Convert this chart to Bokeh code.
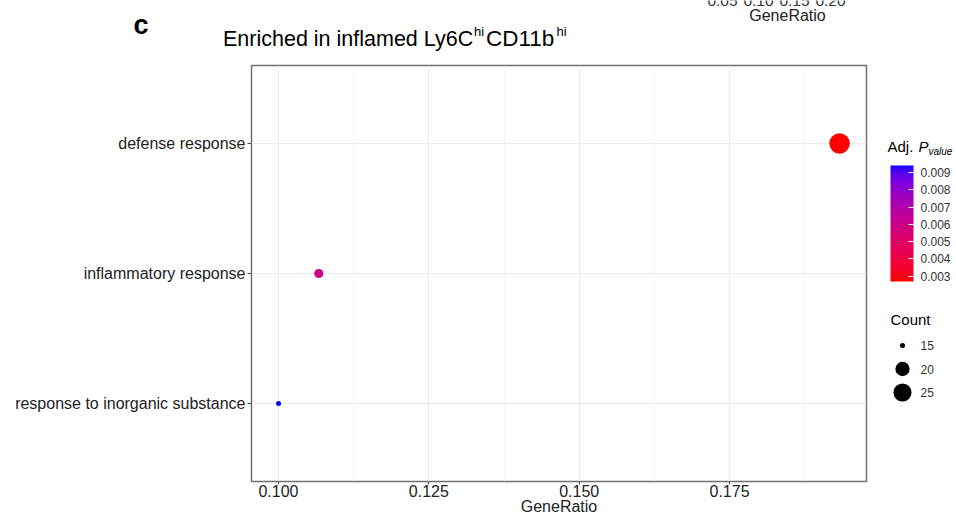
import numpy as np
from bokeh.plotting import figure
from bokeh.models import (Range1d, FactorRange, FixedTicker, LinearColorMapper, ColorBar,
                          PrintfTickFormatter, ColumnDataSource)
from bokeh.layouts import column, row
from bokeh.core.properties import value
from bokeh.embed import file_html
from bokeh.resources import INLINE

# ---------------- data ----------------
terms = ["defense response", "inflammatory response", "response to inorganic substance"]
gene_ratio = [0.1933, 0.1067, 0.1000]
counts = [29, 16, 15]
p_adjust = [0.0027, 0.0060, 0.0094]

x_ticks = [0.100, 0.125, 0.150, 0.175]
x_minor = [0.1125, 0.1375, 0.1625, 0.1875]
cbar_ticks = [0.003, 0.004, 0.005, 0.006, 0.007, 0.008, 0.009]
count_breaks = [15, 20, 25]
# tick labels of the neighbouring panel, cut off at the top edge of the reference
neighbour_ticks = ["0.05", "0.10", "0.15", "0.20"]

FONT = "Liberation Sans"
W, H = 956, 521
TOP_H = 58
MAIN_W = 870

# ---------------- scales ----------------
def size_px(c):
    cmin, cmax = min(counts), max(counts)
    return 5.0 + 15.5 * np.sqrt((np.asarray(c, float) - cmin) / (cmax - cmin))


def _srgb_to_lab(rgb):
    c = np.array(rgb, float) / 255.0
    lin = np.where(c > 0.04045, ((c + 0.055) / 1.055) ** 2.4, c / 12.92)
    M = np.array([[0.4124, 0.3576, 0.1805], [0.2126, 0.7152, 0.0722], [0.0193, 0.1192, 0.9505]])
    X, Y, Z = M @ lin
    X /= 0.95047; Z /= 1.08883
    d = 6 / 29
    f = lambda t: t ** (1 / 3) if t > d ** 3 else t / (3 * d * d) + 4 / 29
    fx, fy, fz = f(X), f(Y), f(Z)
    return np.array([116 * fy - 16, 500 * (fx - fy), 200 * (fy - fz)])


def _lab_to_hex(lab):
    L, a, b = lab
    fy = (L + 16) / 116
    fx = fy + a / 500
    fz = fy - b / 200
    d = 6 / 29
    finv = lambda t: t ** 3 if t > d else 3 * d * d * (t - 4 / 29)
    X, Y, Z = finv(fx) * 0.95047, finv(fy), finv(fz) * 1.08883
    Minv = np.linalg.inv(np.array([[0.4124, 0.3576, 0.1805], [0.2126, 0.7152, 0.0722], [0.0193, 0.1192, 0.9505]]))
    lin = np.clip(Minv @ np.array([X, Y, Z]), 0, 1)
    c = np.where(lin > 0.0031308, 1.055 * lin ** (1 / 2.4) - 0.055, 12.92 * lin)
    c = np.clip(np.round(c * 255), 0, 255).astype(int)
    return "#%02x%02x%02x" % tuple(c)


lab_lo = _srgb_to_lab((255, 0, 0))
lab_hi = _srgb_to_lab((0, 0, 255))
palette = [_lab_to_hex(lab_lo + (lab_hi - lab_lo) * t) for t in np.linspace(0, 1, 256)]
mapper = LinearColorMapper(palette=palette, low=min(p_adjust), high=max(p_adjust))


def txt(fig, x, y, s, size, style="normal", color="#000000", align="left"):
    fig.text(x=[x], y=[y], text=[s], text_font=value(FONT), text_font_size=size,
             text_font_style=style, text_color=color, text_align=align,
             text_baseline="middle")


# ---------------- top strip ----------------
top = figure(width=W, height=TOP_H, x_range=Range1d(0, W), y_range=Range1d(TOP_H, 0),
             output_backend="svg", toolbar_location=None, min_border=0,
             x_axis_location=None, y_axis_location=None)
top.grid.visible = False
top.outline_line_color = None
txt(top, 133, 24, "c", "27px", style="bold")
txt(top, 222.5, 38, "Enriched in inflamed Ly6C", "21.5px")
txt(top, 473.5, 31, "hi", "13px")
txt(top, 485.5, 38, "CD11b", "22.5px")
txt(top, 556, 31, "hi", "13px")
for i, t in enumerate(neighbour_ticks):
    txt(top, 722 + 36 * i, 0.5, t, "15.5px", color="#333333", align="center")
txt(top, 787, 15, "GeneRatio", "16px", color="#222222", align="center")

# ---------------- main panel ----------------
src = ColumnDataSource(dict(term=terms, gene_ratio=gene_ratio, count=counts,
                            p_adjust=p_adjust, size=size_px(counts)))

p = figure(width=MAIN_W, height=H - TOP_H,
           x_range=Range1d(0.09551, 0.19778),
           y_range=FactorRange(factors=terms[::-1], range_padding=0.1, range_padding_units="absolute"),
           output_backend="svg", toolbar_location=None,
           min_border_left=251, min_border_right=4, min_border_top=7, min_border_bottom=40)
p.background_fill_color = "white"
p.border_fill_color = "white"
p.outline_line_color = "#707070"
p.outline_line_width = 1.5

p.scatter(x="gene_ratio", y="term", size="size", source=src,
          fill_color={"field": "p_adjust", "transform": mapper}, line_color=None)

p.xaxis.ticker = FixedTicker(ticks=x_ticks, minor_ticks=x_minor)
p.xaxis.formatter = PrintfTickFormatter(format="%.3f")
p.xaxis.axis_label = "GeneRatio"
for ax in (p.xaxis[0], p.yaxis[0]):
    ax.axis_line_color = None
    ax.major_tick_line_color = "#444444"
    ax.minor_tick_line_color = None
    ax.major_tick_in = 0
    ax.major_label_text_font = FONT
    ax.major_label_text_font_size = "16px"
    ax.major_label_text_color = "#222222"
    ax.axis_label_text_font = FONT
    ax.axis_label_text_font_size = "16px"
    ax.axis_label_text_font_style = "normal"
    ax.axis_label_text_color = "#222222"
p.xaxis.major_tick_out = 3
p.xaxis.major_label_standoff = -1
p.xaxis.axis_label_standoff = -2
p.yaxis.major_tick_out = 4
p.yaxis.major_label_standoff = 2

p.xgrid.grid_line_color = "#EBEBEB"
p.xgrid.grid_line_width = 1.1
p.xgrid.minor_grid_line_color = "#F1F1F1"
p.xgrid.minor_grid_line_width = 0.7
p.ygrid.grid_line_color = "#EBEBEB"
p.ygrid.grid_line_width = 1.1

# ---------------- legends ----------------
# frame of this figure is aligned with the main panel frame (y 65..481)
lg = figure(width=W - MAIN_W, height=H - TOP_H, x_range=Range1d(MAIN_W, W), y_range=Range1d(481, 65),
            output_backend="svg", toolbar_location=None,
            min_border_left=0, min_border_right=0, min_border_top=7, min_border_bottom=40,
            x_axis_location=None, y_axis_location=None)
lg.grid.visible = False
lg.outline_line_color = None

txt(lg, 887, 146, "Adj. ", "15px")
txt(lg, 918, 146, "P", "15px", style="italic")
txt(lg, 928, 151, "value", "10px", style="italic")

cb = ColorBar(color_mapper=mapper, width=23, height=116, location=(890 - MAIN_W, 481 - 281),
              padding=0, margin=0, title=None,
              ticker=FixedTicker(ticks=cbar_ticks),
              formatter=PrintfTickFormatter(format="%.3f"),
              major_label_text_font=FONT, major_label_text_font_size="12px",
              major_label_text_color="#333333", label_standoff=7,
              major_tick_line_color="white", major_tick_in=5, major_tick_out=0,
              minor_tick_line_color=None, bar_line_color=None,
              background_fill_color=None, border_line_color=None)
lg.add_layout(cb)

txt(lg, 890, 319, "Count", "15px")
leg_y = [345 + 23.5 * i for i in range(len(count_breaks))]
lg.scatter(x=[902] * len(count_breaks), y=leg_y, size=size_px(count_breaks),
           fill_color="black", line_color=None)
for yy, c in zip(leg_y, count_breaks):
    txt(lg, 920, yy, str(c), "12px", color="#333333")

layout = column(top, row(p, lg))
open("out.html", "w").write(file_html(layout, INLINE))
